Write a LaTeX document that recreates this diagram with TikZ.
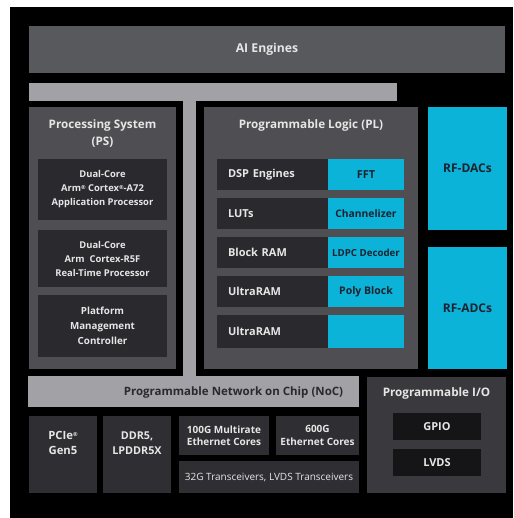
\documentclass[tikz,border=0pt]{standalone}
\usepackage{fontspec}
\setmainfont{Open Sans}
\usetikzlibrary{positioning,calc}

\definecolor{aigray}{HTML}{58595D}
\definecolor{bargray}{HTML}{A2A2A6}
\definecolor{blockgray}{HTML}{4F4F53}
\definecolor{innerdark}{HTML}{2A2A2E}
\definecolor{botdark}{HTML}{2F2F33}
\definecolor{iogray}{HTML}{3A3A3E}
\definecolor{iodark}{HTML}{151517}
\definecolor{rfcyan}{HTML}{0BB3D8}
\definecolor{txtlight}{HTML}{E6E6E6}
\definecolor{txtdark}{HTML}{1C2230}

\newcommand{\regsm}{\raisebox{0.45ex}{\fontsize{5.5}{5.5}\selectfont ®}}

\begin{document}
\begin{tikzpicture}[x=1pt, y=-1pt]
\tikzstyle{blk} = [anchor=north west, inner sep=0pt, outer sep=0pt, align=center, text=txtlight, font=\bfseries\fontsize{11}{13}\selectfont]
\tikzstyle{ttl} = [inner sep=0pt, align=center, text=txtlight, font=\bfseries\fontsize{11.7}{17}\selectfont]
\tikzstyle{cyanbox} = [blk, fill=rfcyan, text=txtdark]
\tikzstyle{rowbox} = [blk, fill=innerdark, minimum width=111pt, minimum height=31pt, text width=89pt, align=left]

% canvas
\fill[white] (0,0) rectangle (513,518);
\fill[black] (10,7) rectangle (513,518);
\useasboundingbox (0,0) rectangle (513,518);

% AI engines and the T bar down to the NoC
\node[blk, fill=aigray, minimum width=476pt, minimum height=47pt, font=\bfseries\fontsize{12.2}{14}\selectfont] (ai) at (29,26) {AI Engines};
\fill[bargray] (29,83) rectangle (397,101);
\fill[bargray] (183,101) rectangle (196,376);

% processing system
\node[blk, fill=blockgray, minimum width=147pt, minimum height=262pt] (ps) at (29,107) {};
\node[ttl] (pstitle) at (102.5,133.5) {Processing System\\(PS)};
\node[blk, fill=innerdark, minimum width=129pt, minimum height=61pt, font=\bfseries\fontsize{9.4}{14}\selectfont] (apu) at (38,159) {Dual-Core\\Arm\regsm{} Cortex\regsm{}-A72\\Application Processor};
\node[blk, fill=innerdark, minimum width=129pt, minimum height=57pt, font=\bfseries\fontsize{9.4}{14}\selectfont] (rpu) at (38,230) {Dual-Core\\Arm\ \ Cortex-R5F\\Real-Time Processor};
\node[blk, fill=innerdark, minimum width=129pt, minimum height=62pt, font=\bfseries\fontsize{9.8}{15}\selectfont] (pmc) at (38,295) {Platform\\Management\\Controller};

% programmable logic
\node[blk, fill=blockgray, minimum width=214pt, minimum height=262pt] (pl) at (204,107) {};
\node[ttl] (pltitle) at (311,125) {Programmable Logic (PL)};
\node[rowbox] (dsp) at (217,159) {DSP Engines};
\node[cyanbox, minimum width=76pt, minimum height=31pt] (fft) at (328,159) {FFT};
\node[rowbox] (luts) at (217,198) {LUTs};
\node[cyanbox, minimum width=76pt, minimum height=31pt, font=\bfseries\fontsize{10.3}{12}\selectfont] (chan) at (328,198) {Channelizer};
\node[rowbox] (bram) at (217,237) {Block RAM};
\node[cyanbox, minimum width=76pt, minimum height=31pt, font=\bfseries\fontsize{9.7}{12}\selectfont] (ldpc) at (328,237) {LDPC Decoder};
\node[rowbox] (uram) at (217,276) {UltraRAM};
\node[cyanbox, minimum width=76pt, minimum height=31pt, font=\bfseries\fontsize{10.5}{12}\selectfont] (poly) at (328,276) {Poly Block};
\node[rowbox, minimum height=33pt] (uramb) at (217,315) {UltraRAM};
\node[cyanbox, minimum width=76pt, minimum height=33pt] (blank) at (328,315) {};

% RF converters
\node[cyanbox, minimum width=79pt, minimum height=123pt, font=\bfseries\fontsize{12}{14}\selectfont] (dac) at (428,107) {RF-DACs};
\node[cyanbox, minimum width=79pt, minimum height=122pt, font=\bfseries\fontsize{12}{14}\selectfont] (adc) at (428,247) {RF-ADCs};

% network on chip
\node[blk, fill=bargray, minimum width=331pt, minimum height=31pt] (noc) at (28,376) {};
\node[ttl, text=innerdark, font=\bfseries\fontsize{11.5}{13}\selectfont] (noctxt) at (233.5,393) {Programmable Network on Chip (NoC)};

% bottom row
\node[blk, fill=botdark, minimum width=68pt, minimum height=77pt] (pcie) at (29,416) {};
\node[ttl, font=\bfseries\fontsize{11.3}{15}\selectfont] (pcietxt) at (63,442.5) {PCIe\regsm\\Gen5};
\node[blk, fill=botdark, minimum width=68pt, minimum height=77pt] (ddr) at (103,416) {};
\node[ttl, font=\bfseries\fontsize{10.8}{15}\selectfont] (ddrtxt) at (137,443) {DDR5,\\LPDDR5X};
\node[blk, fill=botdark, minimum width=90pt, minimum height=39pt, font=\bfseries\fontsize{10}{12.5}\selectfont] (eth100) at (179,416) {100G Multirate\\Ethernet Cores};
\node[blk, fill=botdark, minimum width=83pt, minimum height=39pt, font=\bfseries\fontsize{10}{12.5}\selectfont] (eth600) at (276,416) {600G\\Ethernet Cores};
\node[blk, fill=botdark, minimum width=180pt, minimum height=32pt, font=\fontsize{10}{12}\selectfont] (xcvr) at (179,461) {32G Transceivers, LVDS Transceivers};

% programmable I/O
\node[blk, fill=iogray, minimum width=139pt, minimum height=116pt] (pio) at (367,377) {};
\node[ttl] (piotitle) at (436.5,393) {Programmable I/O};
\node[blk, fill=iodark, minimum width=88pt, minimum height=27pt, font=\bfseries\fontsize{11}{13}\selectfont] (gpio) at (393,413) {GPIO};
\node[blk, fill=iodark, minimum width=88pt, minimum height=27pt, font=\bfseries\fontsize{11}{13}\selectfont] (lvds) at (393,449) {LVDS};
\end{tikzpicture}
\end{document}
